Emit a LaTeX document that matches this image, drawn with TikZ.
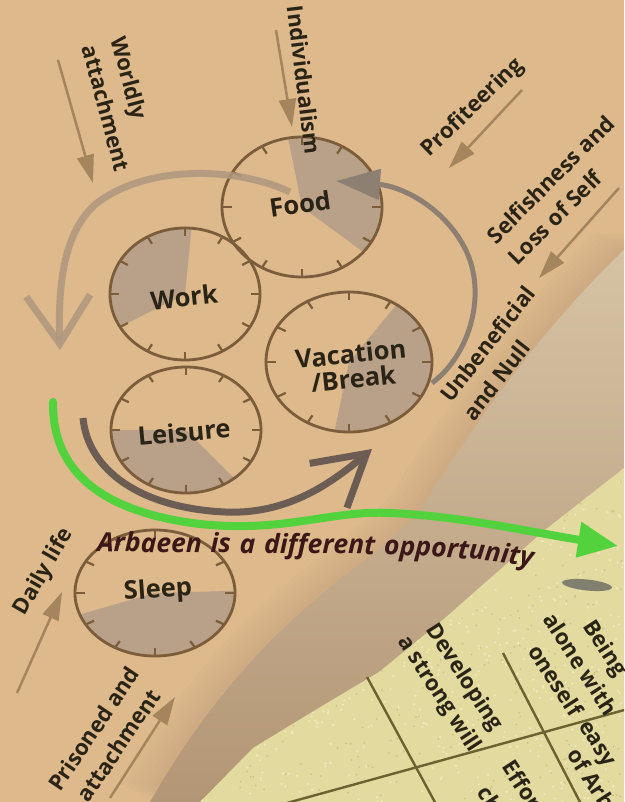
\documentclass[tikz,border=0pt]{standalone}
\usepackage{fontspec}
\setmainfont{Open Sans}
\usetikzlibrary{arrows.meta, decorations.text}

\definecolor{sand}{HTML}{DDB98B}
\definecolor{foldlight}{HTML}{D5C3A4}
\definecolor{folddark}{HTML}{B39676}
\definecolor{paper}{HTML}{E2DA9E}
\definecolor{speck}{HTML}{F4EECB}
\definecolor{grit}{HTML}{BDB277}
\definecolor{rim}{HTML}{7B5C3B}
\definecolor{wedge}{HTML}{B8A188}
\definecolor{ink}{HTML}{2A2417}
\definecolor{pointer}{HTML}{A5855D}
\definecolor{looplight}{HTML}{AE9880}
\definecolor{loopmid}{HTML}{8E7F73}
\definecolor{loopdeep}{HTML}{6B5D54}
\definecolor{wine}{HTML}{3B1718}
\definecolor{lime}{HTML}{52D23C}
\definecolor{gridline}{HTML}{6A6230}

\newcommand{\clockface}[7]{% #1=name #2,#3=centre #4,#5=radii #6,#7=shaded sector
  \coordinate (#1) at (#2,#3);
  \fill[wedge] (#1) -- plot[domain=#6:#7, samples=36] ({#2+#4*cos(\x)},{#3-#5*sin(\x)}) -- cycle;
  \draw[rim, line width=2.8pt] (#1) ellipse[x radius=#4pt, y radius=#5pt];
  \foreach \ang in {0,30,...,330}{%
    \draw[rim, line width=2.2pt] ({#2+#4*cos(\ang)},{#3-#5*sin(\ang)})
      -- ({#2+0.88*#4*cos(\ang)},{#3-0.88*#5*sin(\ang)});}}

\begin{document}
\begin{tikzpicture}[x=1pt, y=-1pt,
  tag/.style={text=ink, font=\bfseries\fontsize{22}{30}\selectfont, align=left, inner sep=0pt},
  dial/.style={text=ink, font=\bfseries\fontsize{25.5}{25}\selectfont, align=center, inner sep=0pt},
  cell/.style={text=ink, font=\bfseries\fontsize{22}{30}\selectfont, align=center, inner sep=0pt, rotate=-57},
  pointer/.style={draw=pointer, line width=2.5pt, -{Triangle[length=28pt, width=17pt]}},
]
\useasboundingbox (0,0) rectangle (624,802);
\clip (0,0) rectangle (624,802);

% ---------- BACKGROUND ----------
\fill[sand] (0,0) rectangle (624,802);
% soft edge of the fold
\foreach \s in {4,8,...,28}
  \fill[folddark, opacity=0.05, shift={(-\s,-0.6*\s)}]
    (624,250) .. controls (540,330) and (470,430) .. (420,510)
    .. controls (370,570) and (260,610) .. (150,802) -- (700,802) -- (700,250) -- cycle;
\shade[top color=foldlight, bottom color=folddark]
  (624,250) .. controls (540,330) and (470,430) .. (420,510)
  .. controls (370,570) and (260,610) .. (150,802) -- (624,802) -- cycle;

% yellow sheet with grain
\begin{scope}
  \clip (624,468) -- (545,530) -- (445,618) -- (379,672) -- (312,712)
    -- (253,748) -- (200,802) -- (624,802) -- cycle;
  \fill[paper] (0,0) rectangle (624,802);
  \pgfmathsetseed{11}
  \foreach \i in {1,...,700}{%
    \pgfmathsetmacro{\px}{200+424*rnd}
    \pgfmathsetmacro{\py}{466+336*rnd}
    \fill[speck, opacity=0.7] (\px,\py) circle (1.3pt);}
  \foreach \i in {1,...,350}{%
    \pgfmathsetmacro{\px}{200+424*rnd}
    \pgfmathsetmacro{\py}{466+336*rnd}
    \fill[grit, opacity=0.6] (\px,\py) circle (1pt);}
\end{scope}

% table on the sheet
\draw[gridline, line width=2.4pt] (367,677) -- (437,806);
\draw[gridline, line width=2.4pt] (503,653) -- (582,806);
\draw[gridline, line width=2.4pt] (276,806) -- (628,709);
\fill[black!65, opacity=0.7, rotate around={-6:(587,585)}] (587,585) ellipse[x radius=25pt, y radius=5.5pt];
\node[cell] (will) at (451,686) {Developing\\a strong will};
\node[cell] (alone) at (581,664) {Being\\alone with\\oneself};
\node[cell, anchor=west] (easy) at (581,724) {easy};
\node[cell, anchor=west] (ofarb) at (573,750) {of Arbaeen};
\node[cell, anchor=west] (effort) at (508,762) {Effort};
\node[cell, anchor=west] (ch) at (483,788) {ch};

% ---------- CLOCKS ----------
\clockface{food}{302}{207}{80}{70}{-40}{100}
\clockface{work}{185}{294}{75}{66}{85}{210}
\clockface{leisure}{186}{430}{75}{63}{180}{310}
\clockface{vacation}{349}{362}{83}{70}{-100}{55}
\clockface{sleep}{155}{593}{80}{63}{-160}{2}

\node[dial, rotate=8] (foodlabel) at (300,204) {Food};
\node[dial, rotate=6] (worklabel) at (184,297) {Work};
\node[dial, rotate=5] (leisurelabel) at (184,432) {Leisure};
\node[dial, rotate=6] (vacationlabel) at (352,366) {Vacation\\/Break};
\node[dial, rotate=4] (sleeplabel) at (158,591) {Sleep};

% ---------- CYCLE ARROWS ----------
\coordinate (topstart) at (290,192);
\coordinate (topend) at (60,350);
\draw[looplight, opacity=0.85, line width=7pt, -{Straight Barb[length=48pt, width=64pt]}]
  (topstart) .. controls (240,168) and (150,163) .. (97,203)
  .. controls (62,232) and (58,290) .. (topend);

\coordinate (rightstart) at (432,383);
\coordinate (rightend) at (336,181);
\draw[loopmid, line width=5pt, -{Triangle[length=44pt, width=30pt]}]
  (rightstart) .. controls (470,355) and (490,290) .. (462,243)
  .. controls (440,205) and (400,186) .. (rightend);

\coordinate (lowstart) at (83,418);
\coordinate (lowend) at (372,449);
\draw[loopdeep, line width=7pt, -{Straight Barb[length=50pt, width=58pt]}]
  (lowstart) .. controls (88,470) and (140,508) .. (225,512)
  .. controls (290,515) and (335,480) .. (lowend);

% ---------- SIDE LABELS ----------
\node[tag, rotate=-75] (worldly) at (121,104) {Worldly\\attachment};
\node[tag, rotate=-83] (individualism) at (304,80) {Individualism};
\node[tag, rotate=44] (profiteering) at (473,108) {Profiteering};
\node[tag, rotate=45] (selfishness) at (561,190) {Selfishness and\\Loss of Self};
\node[tag, rotate=52] (unbeneficial) at (499,353) {Unbeneficial\\and Null};
\node[tag, rotate=60] (dailylife) at (44,572) {Daily life};
\node[tag, rotate=56, align=center] (prisoned) at (106,737) {Prisoned and\\attachment};

\coordinate (worldlyA) at (58,60);        \coordinate (worldlyB) at (93,183);
\coordinate (individualismA) at (276,30); \coordinate (individualismB) at (292,127);
\coordinate (profiteeringA) at (522,90);  \coordinate (profiteeringB) at (449,168);
\coordinate (selfishnessA) at (619,188);  \coordinate (selfishnessB) at (539,278);
\coordinate (dailylifeA) at (17,693);     \coordinate (dailylifeB) at (62,592);
\coordinate (prisonedA) at (110,798);     \coordinate (prisonedB) at (175,697);
\foreach \w in {worldly,individualism,profiteering,selfishness,dailylife,prisoned}
  \draw[pointer] (\w A) -- (\w B);

% ---------- WAY OUT ----------
\coordinate (greenstart) at (53,402);
\coordinate (greenend) at (618,546);
\draw[lime, line width=8pt, line cap=round, -{Triangle[length=40pt, width=34pt]}]
  (greenstart) .. controls (52,470) and (100,512) .. (200,524)
  .. controls (285,533) and (330,510) .. (390,513)
  .. controls (460,516) and (530,532) .. (greenend);

\coordinate (phrasestart) at (97,551);
\coordinate (phraseend) at (532,567);
\path[decorate, decoration={text along path, text color=wine,
    text align={fit to path stretching spaces},
    text={|\bfseries\itshape\fontsize{26.5}{26}\selectfont|Arbaeen is a different opportunity}}]
  (phrasestart) .. controls (250,556) and (430,548) .. (phraseend);

\end{tikzpicture}
\end{document}
